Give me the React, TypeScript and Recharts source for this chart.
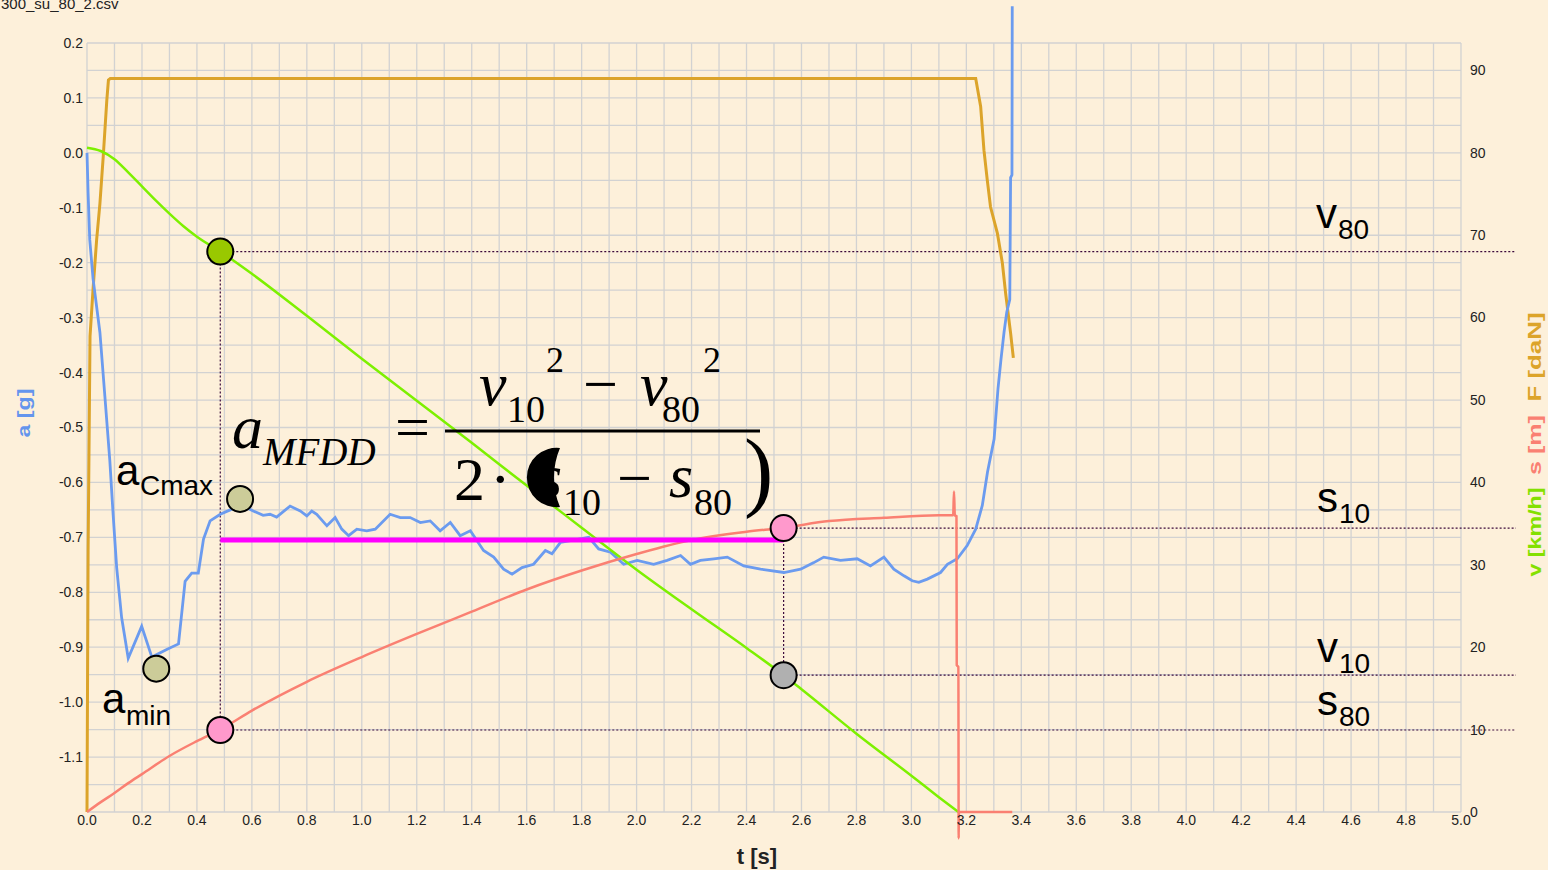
import React from 'react';
import { LineChart, Line, XAxis, YAxis, CartesianGrid, ReferenceLine, ReferenceDot } from 'recharts';

const W = 1548;
const H = 870;

// axis ticks
const tTicks = [
  0, 0.1, 0.2, 0.3, 0.4, 0.5, 0.6, 0.7, 0.8, 0.9, 1.0, 1.1, 1.2, 1.3, 1.4, 1.5, 1.6, 1.7, 1.8, 1.9, 2.0,
  2.1, 2.2, 2.3, 2.4, 2.5, 2.6, 2.7, 2.8, 2.9, 3.0, 3.1, 3.2, 3.3, 3.4, 3.5, 3.6, 3.7, 3.8, 3.9, 4.0,
  4.1, 4.2, 4.3, 4.4, 4.5, 4.6, 4.7, 4.8, 4.9, 5.0,
];
const aTicks = [
  0.2, 0.15, 0.1, 0.05, 0, -0.05, -0.1, -0.15, -0.2, -0.25, -0.3, -0.35, -0.4, -0.45, -0.5, -0.55, -0.6,
  -0.65, -0.7, -0.75, -0.8, -0.85, -0.9, -0.95, -1.0, -1.05, -1.1, -1.15, -1.2,
];
const rightTicks = [0, 10, 20, 30, 40, 50, 60, 70, 80, 90];

// a [g]
const aTime = [
  0, 0.004, 0.01, 0.022, 0.047, 0.065, 0.083, 0.095, 0.108, 0.126, 0.15, 0.199, 0.236, 0.29, 0.333, 0.357,
  0.381, 0.405, 0.424, 0.448, 0.485, 0.521, 0.557, 0.605, 0.641, 0.666, 0.69, 0.739, 0.776, 0.8, 0.818,
  0.836, 0.873, 0.903, 0.927, 0.952, 0.982, 1.018, 1.049, 1.103, 1.14, 1.176, 1.213, 1.249, 1.285, 1.322,
  1.358, 1.395, 1.443, 1.48, 1.516, 1.547, 1.583, 1.625, 1.668, 1.692, 1.723, 1.77, 1.826, 1.862, 1.905,
  1.953, 2.002, 2.062, 2.111, 2.16, 2.196, 2.232, 2.281, 2.33, 2.39, 2.451, 2.536, 2.597, 2.645, 2.681,
  2.742, 2.803, 2.851, 2.9, 2.936, 2.973, 3.003, 3.027, 3.058, 3.106, 3.131, 3.167, 3.203, 3.234, 3.258,
  3.277, 3.301, 3.315, 3.326, 3.337, 3.347, 3.358, 3.361, 3.366, 3.367,
];
const aG = [
  0, -0.073, -0.158, -0.229, -0.327, -0.443, -0.56, -0.658, -0.755, -0.846, -0.92, -0.862, -0.918, -0.904,
  -0.894, -0.78, -0.765, -0.765, -0.703, -0.67, -0.658, -0.65, -0.64, -0.652, -0.66, -0.658, -0.663, -0.643,
  -0.652, -0.661, -0.652, -0.658, -0.679, -0.664, -0.685, -0.697, -0.685, -0.688, -0.685, -0.658, -0.664,
  -0.664, -0.673, -0.67, -0.688, -0.673, -0.697, -0.688, -0.724, -0.736, -0.758, -0.767, -0.755, -0.749,
  -0.724, -0.73, -0.709, -0.705, -0.7, -0.721, -0.727, -0.749, -0.742, -0.749, -0.742, -0.733, -0.749,
  -0.742, -0.739, -0.736, -0.752, -0.758, -0.764, -0.758, -0.746, -0.736, -0.742, -0.739, -0.752, -0.736,
  -0.758, -0.77, -0.779, -0.782, -0.776, -0.764, -0.749, -0.739, -0.715, -0.685, -0.642, -0.581, -0.521,
  -0.43, -0.376, -0.327, -0.29, -0.267, -0.045, -0.04, 0.267,
];

// F [daN]
const fTime = [0, 0.004, 0.011, 0.022, 0.035, 0.047, 0.059, 0.072, 0.078, 0.085, 3.234, 3.252, 3.264, 3.276, 3.288, 3.313, 3.331, 3.343, 3.361, 3.371];
const fDaN = [0, 31.7, 57.7, 63.4, 69.4, 73.8, 79.5, 86.3, 88.8, 89.0, 89.0, 85.6, 80.3, 76.7, 73.4, 70.2, 66.6, 62.9, 58.1, 55.1];

// v [km/h]
const vTime = [0, 0.05, 0.1, 0.15, 0.2, 0.25, 0.3, 0.35, 0.4, 0.485, 0.6, 0.8, 1.0, 1.2, 1.4, 1.6, 1.8, 2.0, 2.2, 2.4, 2.535, 2.6, 2.8, 3.0, 3.1, 3.171];
const vKmh = [80.6, 80.2, 79.2, 77.6, 75.9, 74.2, 72.6, 71.1, 69.8, 68.0, 65.3, 60.2, 55.0, 49.9, 44.8, 39.6, 34.5, 29.4, 24.6, 19.9, 16.6, 14.9, 9.5, 4.4, 1.8, 0];

// s [m]
const sTime = [0, 0.05, 0.1, 0.15, 0.2, 0.3, 0.4, 0.485, 0.6, 0.8, 1.0, 1.2, 1.4, 1.6, 1.8, 2.0, 2.2, 2.4, 2.535, 2.7, 2.9, 3.1, 3.149, 3.152, 3.155, 3.158, 3.164, 3.165, 3.171, 3.172, 3.173, 3.367];
const sM = [0, 1.2, 2.3, 3.5, 4.6, 6.8, 8.6, 10.0, 12.3, 15.8, 18.8, 21.6, 24.3, 27.0, 29.3, 31.3, 33.0, 34.0, 34.5, 35.3, 35.7, 36.0, 36.0, 36.0, 38.9, 36.0, 35.9, 17.8, 17.6, -3.2, 0, 0];

// marked points
const v80 = { t: 0.485, v: 68.0 };
const s80 = { t: 0.485, s: 9.95 };
const v10 = { t: 2.535, v: 16.6 };
const s10 = { t: 2.535, s: 34.45 };
const aMin = { t: 0.252, a: -0.939 };
const aCmax = { t: 0.557, a: -0.63 };
const aMfdd = -0.705;
const guideEnd = 5.2;

const aData = aTime.map((t, i) => ({ t, a: aG[i] }));
const fData = fTime.map((t, i) => ({ t, f: fDaN[i] }));
const vData = vTime.map((t, i) => ({ t, v: vKmh[i] }));
const sData = sTime.map((t, i) => ({ t, s: sM[i] }));

const fmtT = (v: number) => (Math.round(v * 10) % 2 === 0 ? v.toFixed(1) : '');
const fmtA = (v: number) => {
  const k = Math.round(v * 100);
  return k % 10 === 0 && k > -120 ? (k / 100).toFixed(1) : '';
};

const tickStyle = { fontSize: 14, fill: '#222', fontFamily: 'Liberation Sans, Arial, sans-serif' };
const guide = { stroke: '#3c0a3c', strokeDasharray: '2 2', strokeWidth: 1.2, ifOverflow: 'visible' as const };
const dot = { r: 13, stroke: '#000', strokeWidth: 2, ifOverflow: 'visible' as const };

function Sub({ x, y, main, sub }: { x: number; y: number; main: string; sub: string }) {
  return (
    <g fill="#000">
      <text x={x} y={y} fontSize={42}>{main}</text>
      <text x={x + 22} y={y + 11} fontSize={28}>{sub}</text>
    </g>
  );
}

function Overlay() {
  const serif = 'Liberation Serif, Times New Roman, serif';
  return (
    <svg width={W} height={H} style={{ position: 'absolute', left: 0, top: 0, pointerEvents: 'none' }}
      fontFamily="Liberation Sans, Arial, sans-serif">
      <text x={1} y={9} fontSize={15} fill="#222">300_su_80_2.csv</text>

      <Sub x={1316} y={228} main="v" sub="80" />
      <Sub x={1317} y={512} main="s" sub="10" />
      <Sub x={1317} y={662} main="v" sub="10" />
      <Sub x={1317} y={715} main="s" sub="80" />
      <g fill="#000">
        <text x={116} y={485} fontSize={42}>a</text>
        <text x={140} y={495} fontSize={28}>Cmax</text>
        <text x={102} y={713} fontSize={42}>a</text>
        <text x={126} y={725} fontSize={28}>min</text>
      </g>

      <g fontFamily={serif} fill="#000">
        <text x={232} y={448} fontSize={62} fontStyle="italic">a</text>
        <text x={263} y={465} fontSize={39} fontStyle="italic">MFDD</text>
        <text x={395} y={448} fontSize={62}>=</text>
        <line x1={445} y1={431} x2={760} y2={431} stroke="#000" strokeWidth={3} />
        <text x={479} y={405} fontSize={62} fontStyle="italic">v</text>
        <text x={507} y={422} fontSize={38}>10</text>
        <text x={546} y={372} fontSize={36}>2</text>
        <text x={583} y={405} fontSize={62}>−</text>
        <text x={640} y={405} fontSize={62} fontStyle="italic">v</text>
        <text x={662} y={422} fontSize={38}>80</text>
        <text x={703} y={372} fontSize={36}>2</text>
        <text x={454} y={500} fontSize={62}>2</text>
        <text x={490} y={500} fontSize={62}>·</text>
        <text x={538} y={497} fontSize={62} fontStyle="italic">s</text>
        <path d="M560,448 A29.7,29.7 0 1 0 560,507 A75,75 0 0 1 560,448 Z" fill="#000" />
        <text x={563} y={515} fontSize={38}>10</text>
        <text x={617} y={499} fontSize={62}>−</text>
        <text x={669} y={497} fontSize={62} fontStyle="italic">s</text>
        <text x={694} y={515} fontSize={38}>80</text>
        <text x={744} y={500} fontSize={88}>)</text>
      </g>

      <text transform="translate(30,413) rotate(-90)" textAnchor="middle" fontSize={18} fontWeight="bold"
        fill="#6495ed" textLength={49} lengthAdjust="spacingAndGlyphs">a [g]</text>
      <text transform="translate(1541,532) rotate(-90)" textAnchor="middle" fontSize={18} fontWeight="bold"
        fill="#84e000" textLength={89} lengthAdjust="spacingAndGlyphs">v [km/h]</text>
      <text transform="translate(1541,445) rotate(-90)" textAnchor="middle" fontSize={18} fontWeight="bold"
        fill="#fa8072" textLength={60} lengthAdjust="spacingAndGlyphs">s [m]</text>
      <text transform="translate(1541,357) rotate(-90)" textAnchor="middle" fontSize={18} fontWeight="bold"
        fill="#dca42a" textLength={89} lengthAdjust="spacingAndGlyphs">F [daN]</text>

      <text x={757} y={864} textAnchor="middle" fontSize={22} fontWeight="bold" fill="#222">t [s]</text>
    </svg>
  );
}

export default function App() {
  return (
    <div style={{ position: 'relative', width: W, height: H, background: '#fdf0da', overflow: 'hidden' }}>
      <style>{`body{margin:0} .recharts-wrapper [clip-path], .recharts-wrapper g{clip-path:none !important}`}</style>
      <LineChart width={W} height={H} margin={{ top: 43, right: 0, bottom: 0, left: 0 }}>
        <CartesianGrid yAxisId="a" stroke="#d2d2d2" strokeWidth={1.3} />
        <XAxis dataKey="t" type="number" domain={[0, 5]} ticks={tTicks} interval={0} tickFormatter={fmtT}
          axisLine={false} tickLine={false} tickSize={0} tickMargin={3} height={58} tick={tickStyle} />
        <YAxis yAxisId="a" orientation="left" type="number" domain={[-1.2, 0.2]} ticks={aTicks} interval={0}
          allowDataOverflow tickFormatter={fmtA} axisLine={false} tickLine={false} tickSize={0} tickMargin={4}
          width={87} tick={tickStyle} />
        <YAxis yAxisId="r" orientation="right" type="number" domain={[0, 93.3]} ticks={rightTicks} interval={0}
          allowDataOverflow axisLine={false} tickLine={false} tickSize={0} tickMargin={9} width={87} tick={tickStyle} />

        <ReferenceLine yAxisId="r" {...guide} segment={[{ x: v80.t, y: v80.v }, { x: guideEnd, y: v80.v }]} />
        <ReferenceLine yAxisId="r" {...guide} segment={[{ x: s80.t, y: s80.s }, { x: guideEnd, y: s80.s }]} />
        <ReferenceLine yAxisId="r" {...guide} segment={[{ x: v10.t, y: v10.v }, { x: guideEnd, y: v10.v }]} />
        <ReferenceLine yAxisId="r" {...guide} segment={[{ x: s10.t, y: s10.s }, { x: guideEnd, y: s10.s }]} />
        <ReferenceLine yAxisId="r" {...guide} segment={[{ x: v80.t, y: v80.v }, { x: s80.t, y: s80.s }]} />
        <ReferenceLine yAxisId="r" {...guide} segment={[{ x: s10.t, y: s10.s }, { x: v10.t, y: v10.v }]} />

        <Line yAxisId="r" data={fData} dataKey="f" type="linear" stroke="#dca42a" strokeWidth={3} dot={false}
          isAnimationActive={false} />
        <Line yAxisId="a" data={aData} dataKey="a" type="linear" stroke="#6b9bef" strokeWidth={2.8} dot={false}
          isAnimationActive={false} />
        <Line yAxisId="r" data={vData} dataKey="v" type="monotone" stroke="#7df000" strokeWidth={2.5} dot={false}
          isAnimationActive={false} />
        <Line yAxisId="r" data={sData} dataKey="s" type="monotone" stroke="#fa8072" strokeWidth={2.5} dot={false}
          isAnimationActive={false} />

        <ReferenceLine yAxisId="a" segment={[{ x: v80.t, y: aMfdd }, { x: v10.t, y: aMfdd }]} stroke="#ff00ff"
          strokeWidth={5} ifOverflow="visible" />

        <ReferenceDot yAxisId="r" x={v80.t} y={v80.v} fill="#99c800" {...dot} />
        <ReferenceDot yAxisId="r" x={s80.t} y={s80.s} fill="#ff99cc" {...dot} />
        <ReferenceDot yAxisId="r" x={v10.t} y={v10.v} fill="#b0b0b0" {...dot} />
        <ReferenceDot yAxisId="r" x={s10.t} y={s10.s} fill="#ff99cc" {...dot} />
        <ReferenceDot yAxisId="a" x={aMin.t} y={aMin.a} fill="#cccc99" {...dot} />
        <ReferenceDot yAxisId="a" x={aCmax.t} y={aCmax.a} fill="#cccc99" {...dot} />
      </LineChart>
      <Overlay />
    </div>
  );
}
